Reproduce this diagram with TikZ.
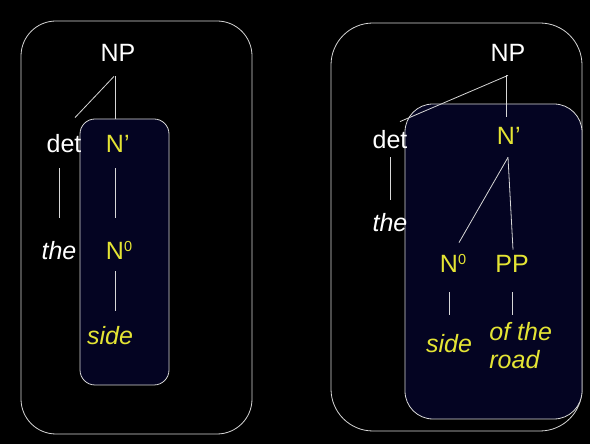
\documentclass[tikz,border=0pt]{standalone}
\usepackage{fontspec}
\setmainfont{Liberation Sans}
\usetikzlibrary{backgrounds}

\definecolor{headyellow}{RGB}{228,228,52}
\definecolor{boxnavy}{RGB}{4,4,34}
\definecolor{rimgray}{RGB}{215,215,215}

\newcommand{\zerosup}{\rlap{\raisebox{8pt}{\fontsize{14.5}{14.5}\selectfont 0}}}

\begin{document}
\begin{tikzpicture}[x=1pt, y=1pt, line width=0.8pt]

%====Definizione stili=======================================================

	\tikzstyle{every node}=[inner sep=0pt, anchor=base, font=\fontsize{25}{28}\selectfont]
	\tikzstyle{lbl}=[text height=18pt, text depth=0pt]
	\tikzstyle{cat}=[lbl, white]
	\tikzstyle{head}=[lbl, headyellow]
	\tikzstyle{word}=[lbl, white, font=\fontsize{25}{28}\selectfont\itshape]
	\tikzstyle{headword}=[word, headyellow]
	\tikzstyle{outerbox}=[draw=rimgray]
	\tikzstyle{innerbox}=[draw=rimgray, fill=boxnavy]
	\tikzstyle{branch}=[draw=rimgray, shorten <=14pt, shorten >=16pt]

%====Sfondo e riquadri=======================================================

	\fill[black] (0,0) rectangle (590,444);
	\draw[outerbox, rounded corners=35pt] (21,10) rectangle (252,423);
	\draw[innerbox, rounded corners=15pt] (80,59) rectangle (169,325);
	\draw[outerbox, rounded corners=42pt] (331,13) rectangle (582,421);
	\draw[innerbox, rounded corners=28pt] (405,25) rectangle (582,340);

%====Albero sinistro=========================================================

	\node[cat]       (npA)   at (118,382)  {NP};
	\node[cat]       (detA)  at (64,291)   {det};
	\node[head]      (nbarA) at (115,291)  {N\rlap{’}};
	\node[word]      (theA)  at (59,184)   {the};
	\node[head]      (nzeroA) at (115,184) {N\zerosup};
	\node[headword]  (sideA) at (110,99)   {side};

	\draw[draw=rimgray] ([xshift=-4pt,yshift=-14pt]npA.south) -- ([xshift=11pt,yshift=17pt]detA.north);
	\path	(nbarA.north |- npA.south)	edge[branch]							(nbarA.north)
			(theA.north |- detA.south)	edge[branch, shorten <=15pt, shorten >=24pt]	(theA.north)
			(nbarA)		edge[branch, shorten <=15pt, shorten >=24pt]	(nzeroA)
			(nzeroA.south)	edge[branch, shorten <=11pt, shorten >=16pt]	(nzeroA.south |- sideA.north);

%====Albero destro===========================================================

	\node[cat]       (npB)   at (508,382)  {NP};
	\node[cat]       (detB)  at (390,295)  {det};
	\node[head]      (nbarB) at (506,299)  {N\rlap{’}};
	\node[word]      (theB)  at (390,212)  {the};
	\node[head]      (nzeroB) at (449,171) {N\zerosup};
	\node[head]      (ppB)   at (512,171)  {PP};
	\node[headword]  (sideB) at (449,91)   {side};
	\node[headword, text height={}, align=left, anchor=north west] (roadB) at (489,122) {of the\\road};

	\draw[draw=rimgray] ([yshift=-13pt]npB.south) -- ([xshift=10pt,yshift=9pt]detB.north);
	\draw[draw=rimgray] ([xshift=2pt,yshift=-12pt]nbarB.south) -- ([xshift=10pt,yshift=12pt]nzeroB.north);
	\draw[draw=rimgray] ([xshift=2pt,yshift=-12pt]nbarB.south) -- ([xshift=1pt,yshift=5pt]ppB.north);
	\path	(nbarB.north |- npB.south)	edge[branch, shorten <=13pt, shorten >=10pt]	(nbarB.north)
			(detB)		edge[branch, shorten <=8pt, shorten >=14pt]		(theB)
			(nzeroB)	edge[branch, shorten <=19pt, shorten >=20pt]	(sideB)
			(ppB.south)	edge[branch, shorten <=19pt, shorten >=7pt]		(ppB.south |- roadB.north);
\end{tikzpicture}
\end{document}
